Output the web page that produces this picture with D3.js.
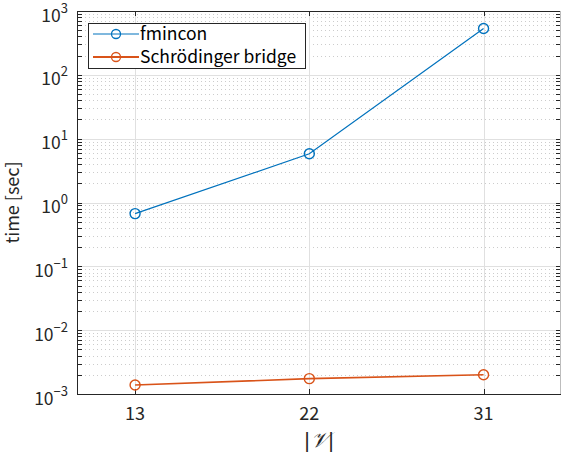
<!DOCTYPE html>
<html><head><meta charset="utf-8">
<script src="https://cdn.jsdelivr.net/npm/d3@7"></script>
<style>body{margin:0;background:#fff}svg{display:block}</style>
</head><body>
<script>
const categories = [13, 22, 31];
const fmincon = [0.67, 5.8, 533];
const schrodinger = [0.00138, 0.00174, 0.0020];
const seriesNames = ["fmincon", "Schrödinger bridge"];
const xTicks = [13, 22, 31];
const yExponents = [-3, -2, -1, 0, 1, 2, 3];

const W = 562, H = 452;
const m = {l: 77, r: 1, t: 11, b: 58};
const font = "'Noto Sans CJK JP', 'Noto Sans', sans-serif";
const svg = d3.select("body").append("svg").attr("width", W).attr("height", H);
const x = d3.scaleLinear().domain([10, 35]).range([m.l, W - m.r]);
const y = d3.scaleLog().domain([1e-3, 1e3]).range([H - m.b, m.t]);

const g = svg.append("g");
// minor grid
const minors = [];
for (let e = -3; e < 3; e++) for (let k = 2; k <= 9; k++) minors.push(k * Math.pow(10, e));
g.selectAll(".mg").data(minors).join("line")
  .attr("x1", m.l).attr("x2", W - m.r)
  .attr("y1", d => Math.round(y(d)) + 0.5).attr("y2", d => Math.round(y(d)) + 0.5)
  .attr("stroke", "#cccccc").attr("stroke-width", 1).attr("stroke-dasharray", "1,3");
// major grid
g.selectAll(".Mg").data(yExponents.map(e => Math.pow(10, e))).join("line")
  .attr("x1", m.l).attr("x2", W - m.r)
  .attr("y1", d => Math.round(y(d)) + 0.5).attr("y2", d => Math.round(y(d)) + 0.5)
  .attr("stroke", "#e0e0e0").attr("stroke-width", 1);
g.selectAll(".xg").data(xTicks).join("line")
  .attr("x1", d => Math.round(x(d)) + 0.5).attr("x2", d => Math.round(x(d)) + 0.5)
  .attr("y1", m.t).attr("y2", H - m.b)
  .attr("stroke", "#e0e0e0").attr("stroke-width", 1);

// ticks inward
const tickG = svg.append("g").attr("stroke", "#262626").attr("stroke-width", 1);
const allY = minors.concat(yExponents.map(e => Math.pow(10, e)));
allY.forEach(d => {
  const yy = Math.round(y(d)) + 0.5;
  tickG.append("line").attr("x1", m.l).attr("x2", m.l + 5).attr("y1", yy).attr("y2", yy);
  tickG.append("line").attr("x1", W - m.r).attr("x2", W - m.r - 5).attr("y1", yy).attr("y2", yy);
});
xTicks.forEach(d => {
  const xx = Math.round(x(d)) + 0.5;
  tickG.append("line").attr("x1", xx).attr("x2", xx).attr("y1", H - m.b).attr("y2", H - m.b - 5);
  tickG.append("line").attr("x1", xx).attr("x2", xx).attr("y1", m.t).attr("y2", m.t + 5);
});
// box
svg.append("path").attr("d", `M${m.l + 0.5},${m.t + 0.5}H${W - m.r - 0.5}`).attr("stroke", "#262626").attr("fill", "none");
svg.append("path").attr("d", `M${m.l + 0.5},${m.t}V${H - m.b + 0.5}H${W - m.r}`).attr("stroke", "#262626").attr("fill", "none");
svg.append("path").attr("d", `M${W - m.r - 0.5},${m.t}V${H - m.b}`).attr("stroke", "#bdbdbd").attr("fill", "none");

// tick labels
const yl = svg.append("g").attr("font-family", font).attr("fill", "#262626");
yExponents.forEach(e => {
  const t = yl.append("text").attr("x", m.l - 9).attr("y", y(Math.pow(10, e)) + 10.5)
    .attr("text-anchor", "end").attr("font-size", 17.5);
  t.append("tspan").text("10");
  t.append("tspan").attr("dy", -9).attr("font-size", 13).text(e < 0 ? "\u2212" + (-e) : String(e));
});
svg.append("g").selectAll("text").data(xTicks).join("text")
  .attr("x", d => x(d)).attr("y", H - m.b + 26).attr("text-anchor", "middle")
  .attr("font-family", font).attr("font-size", 18).attr("fill", "#262626").text(d => d);

// axis labels
svg.append("text").attr("transform", `translate(19,${(m.t + H - m.b) / 2}) rotate(-90)`)
  .attr("text-anchor", "middle").attr("font-family", font).attr("font-size", 18).attr("fill", "#262626")
  .text("time [sec]");
const xl = svg.append("text").attr("x", (m.l + W - m.r) / 2).attr("y", H - 5).attr("text-anchor", "middle")
  .attr("font-size", 21).attr("fill", "#262626").attr("font-family", "'DejaVu Serif', serif");
xl.append("tspan").text("|");
xl.append("tspan").attr("font-style", "italic").text("\uD835\uDCB1");
xl.append("tspan").text("|");

// series
const colors = ["#0072BD", "#D95319"];
const series = [fmincon, schrodinger];
const line = d3.line().x((d, i) => x(categories[i])).y(d => y(d));
series.forEach((s, k) => {
  svg.append("path").datum(s).attr("d", line).attr("fill", "none")
    .attr("stroke", colors[k]).attr("stroke-width", k === 0 ? 1.2 : 1.6);
  svg.append("g").selectAll("circle").data(s).join("circle")
    .attr("cx", (d, i) => x(categories[i])).attr("cy", d => y(d)).attr("r", 5)
    .attr("fill", "none").attr("stroke", colors[k]).attr("stroke-width", 1.4);
});

// legend
const lg = svg.append("g");
lg.append("rect").attr("x", 88.5).attr("y", 23.5).attr("width", 217).attr("height", 45)
  .attr("fill", "#fff").attr("stroke", "#262626").attr("stroke-width", 1);
seriesNames.forEach((n, k) => {
  const yy = 34 + k * 23;
  lg.append("line").attr("x1", 93).attr("x2", 139).attr("y1", yy).attr("y2", yy)
    .attr("stroke", colors[k]).attr("stroke-width", k === 0 ? 1.2 : 2);
  lg.append("circle").attr("cx", 116).attr("cy", yy).attr("r", 4.5).attr("fill", "none")
    .attr("stroke", colors[k]).attr("stroke-width", 1.3);
  lg.append("text").attr("x", 140).attr("y", yy + 6).attr("font-family", font).attr("font-size", 17.5)
    .attr("fill", "#000").text(n);
});
</script>
</body></html>
